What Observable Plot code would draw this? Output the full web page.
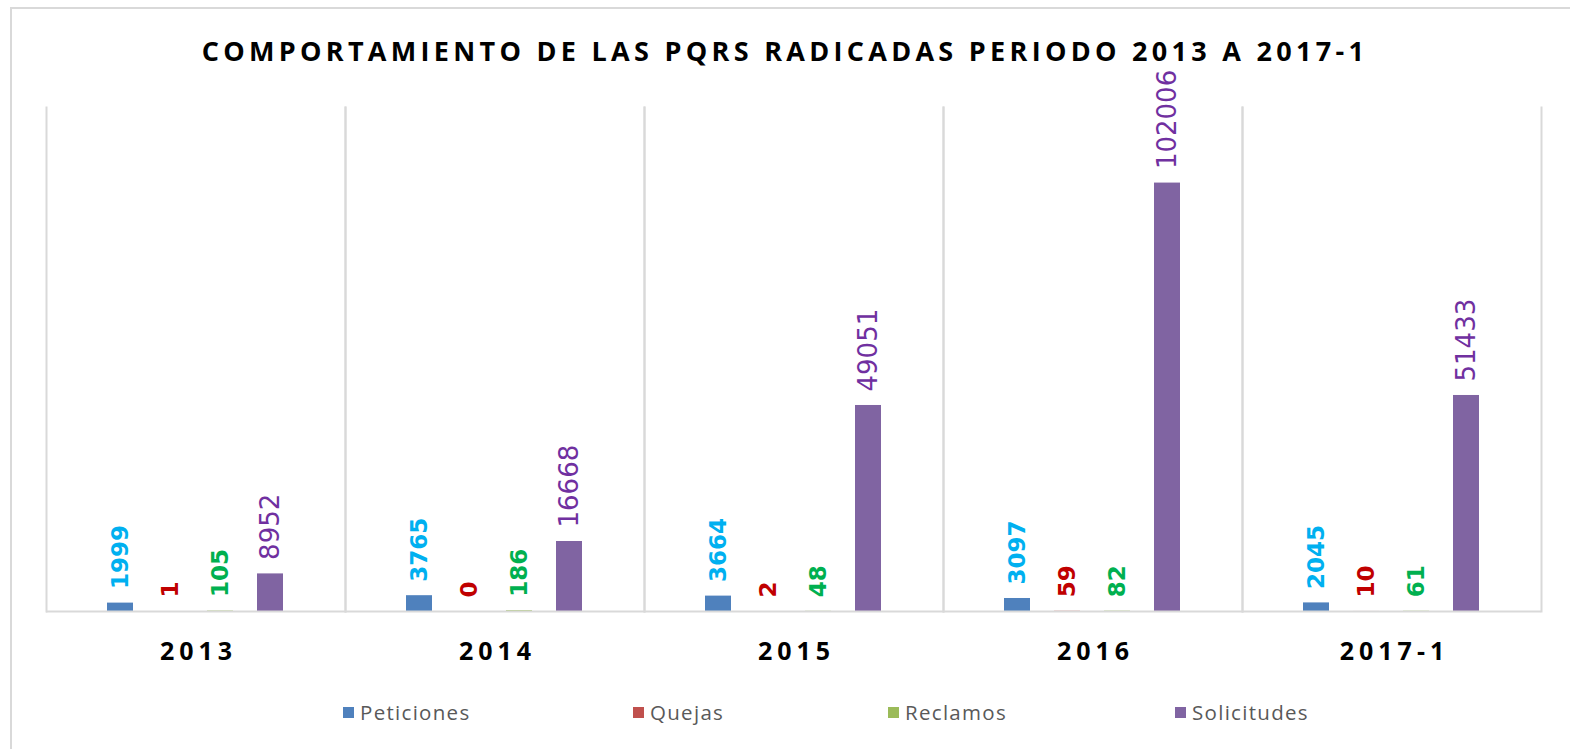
<!DOCTYPE html>
<html>
<head>
<meta charset="utf-8">
<script src="https://cdn.jsdelivr.net/npm/d3@7"></script>
<script src="https://cdn.jsdelivr.net/npm/@observablehq/plot@0.6"></script>
<style>
  html, body { margin: 0; padding: 0; background: #fff; overflow: hidden; width: 1570px; height: 749px; }
  #wrap { position: relative; width: 1570px; height: 749px; overflow: hidden; background: #fff; }
  #frameTop { position: absolute; left: 10px; top: 7px; width: 1560px; height: 2px; background: #d9d9d9; }
  #frameLeft { position: absolute; left: 10px; top: 7px; width: 2px; height: 742px; background: #d9d9d9; }
  #title { position: absolute; left: 0; top: 33px; width: 1570px; text-align: center; font-family: "Open Sans", sans-serif; font-weight: 700; font-size: 27px; letter-spacing: 4.3px; color: #000; line-height: 36px; white-space: nowrap; }
  #chart { position: absolute; left: 0; top: 0; }
  #legend { position: absolute; left: 0; top: 697px; width: 1570px; height: 30px; font-family: "Open Sans", sans-serif; font-size: 20.5px; letter-spacing: 1.3px; color: #595959; }
  .item { position: absolute; top: 0; display: flex; align-items: center; height: 30px; white-space: nowrap; }
  .sw { width: 11px; height: 11px; margin-right: 6px; display: inline-block; }
  g[aria-label="fx-axis tick label"] text { letter-spacing: 5px; }
</style>
</head>
<body>
<div id="wrap">
  <div id="frameTop"></div>
  <div id="frameLeft"></div>
  <div id="title">COMPORTAMIENTO DE LAS PQRS RADICADAS PERIODO 2013 A 2017-1</div>
  <div id="chart"></div>
  <div id="legend"></div>
</div>
<script>
// ---- data ----
const years = ["2013", "2014", "2015", "2016", "2017-1"];
const series = ["Peticiones", "Quejas", "Reclamos", "Solicitudes"];
const peticiones = [1999, 3765, 3664, 3097, 2045];
const quejas = [1, 0, 2, 59, 10];
const reclamos = [105, 186, 48, 82, 61];
const solicitudes = [8952, 16668, 49051, 102006, 51433];
const barColors = ["#4F81BD", "#C0504D", "#9BBB59", "#8064A2"];
const labelColors = ["#00B0F0", "#C00000", "#00B050", "#7030A0"];

const valuesBySeries = [peticiones, quejas, reclamos, solicitudes];
const table = [];
years.forEach((yr, i) => {
  series.forEach((s, j) => {
    table.push({year: yr, series: s, value: valuesBySeries[j][i]});
  });
});

const labelMarks = series.map((s, j) => Plot.text(table.filter(d => d.series === s), {
  fx: "year", x: "series", y: "value",
  text: d => String(d.value),
  rotate: -90, textAnchor: "start", lineAnchor: "middle",
  dy: -14,
  fill: labelColors[j],
  fontFamily: "DejaVu Sans",
  fontWeight: j < 3 ? "bold" : "normal",
  fontSize: j < 3 ? 23 : 26
}));

const chart = Plot.plot({
  width: 1570,
  height: 680,
  marginLeft: 44,
  marginRight: 28,
  marginTop: 107,
  marginBottom: 69,
  style: {background: "transparent", overflow: "visible"},
  fx: {domain: years, padding: 0, label: null},
  x: {domain: series, paddingInner: 0.4706, paddingOuter: 1.17, axis: null},
  y: {domain: [0, 120000], axis: null},
  color: {domain: series, range: barColors},
  marks: [
    Plot.frame({anchor: "left", stroke: "#d9d9d9", strokeWidth: 2}),
    Plot.frame({anchor: "right", stroke: "#d9d9d9", strokeWidth: 2}),
    Plot.barY(table, {fx: "year", x: "series", y: "value", fill: "series"}),
    Plot.ruleY([0], {stroke: "#d9d9d9", strokeWidth: 2}),
    ...labelMarks,
    Plot.axisFx({anchor: "bottom", tickSize: 0, tickPadding: 31, dx: 2.5, fontSize: 25, fontWeight: "bold", fontFamily: "Open Sans", fill: "#000", label: null})
  ]
});
document.getElementById("chart").appendChild(chart);

// ---- legend ----
const legendLeft = [343, 633, 888, 1175];
const legend = document.getElementById("legend");
series.forEach((s, j) => {
  const it = document.createElement("div");
  it.className = "item";
  it.style.left = legendLeft[j] + "px";
  const sw = document.createElement("span");
  sw.className = "sw";
  sw.style.background = barColors[j];
  it.appendChild(sw);
  it.appendChild(document.createTextNode(s));
  legend.appendChild(it);
});
</script>
</body>
</html>
